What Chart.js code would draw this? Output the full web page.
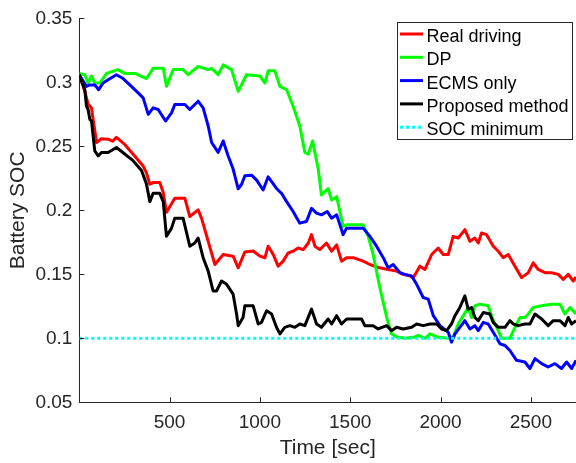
<!DOCTYPE html>
<html>
<head>
<meta charset="utf-8">
<script src="https://cdn.jsdelivr.net/npm/chart.js@4/dist/chart.umd.min.js"></script>
<style>
  html, body { margin: 0; padding: 0; background: #fff; }
  #wrap { width: 576px; height: 463px; }
</style>
</head>
<body>
<div id="wrap"><canvas id="socChart" width="576" height="463"></canvas></div>
<script>
const seriesLabels = ["Real driving", "DP", "ECMS only", "Proposed method", "SOC minimum"];
const seriesColors = ["#ff0000", "#00ff00", "#0000ff", "#000000", "#00ffff"];

const xTicks = [500, 1000, 1500, 2000, 2500];
const yTicks = [0.05, 0.1, 0.15, 0.2, 0.25, 0.3, 0.35];

const realTime = [0, 31, 49, 68, 77, 96, 123, 160, 185, 206, 252, 308, 354, 372, 391, 409, 446, 465, 483, 529, 585, 612, 658, 677, 714, 751, 797, 852, 880, 917, 963, 1000, 1028, 1046, 1074, 1101, 1129, 1157, 1184, 1212, 1240, 1268, 1286, 1305, 1332, 1369, 1397, 1425, 1452, 1480, 1517, 1572, 1609, 1664, 1710, 1757, 1793, 1831, 1849, 1886, 1914, 1951, 1987, 2015, 2043, 2070, 2098, 2135, 2163, 2190, 2209, 2227, 2255, 2292, 2320, 2347, 2375, 2412, 2449, 2486, 2513, 2541, 2578, 2615, 2652, 2680, 2707, 2735, 2750];
const realSoc = [0.306, 0.293, 0.283, 0.280, 0.271, 0.253, 0.256, 0.2556, 0.254, 0.257, 0.2515, 0.2423, 0.2346, 0.2294, 0.2204, 0.2217, 0.2217, 0.214, 0.1985, 0.2094, 0.2094, 0.1952, 0.2004, 0.1939, 0.1758, 0.1577, 0.1655, 0.1642, 0.1551, 0.1675, 0.1682, 0.1642, 0.163, 0.172, 0.1655, 0.1564, 0.1603, 0.1668, 0.168, 0.1706, 0.1693, 0.1745, 0.181, 0.172, 0.1693, 0.1745, 0.168, 0.173, 0.1603, 0.163, 0.163, 0.1603, 0.1577, 0.1551, 0.1538, 0.1525, 0.150, 0.1487, 0.1474, 0.1564, 0.1538, 0.1655, 0.1706, 0.1655, 0.1655, 0.1797, 0.1784, 0.1849, 0.1758, 0.1784, 0.1745, 0.1823, 0.181, 0.172, 0.168, 0.163, 0.1655, 0.1564, 0.1474, 0.1513, 0.159, 0.1538, 0.1513, 0.1513, 0.150, 0.1461, 0.150, 0.1448, 0.148];

const dpTime = [0, 31, 49, 68, 86, 114, 151, 215, 252, 308, 372, 409, 465, 483, 520, 575, 603, 658, 714, 733, 769, 797, 843, 880, 926, 1000, 1028, 1046, 1083, 1111, 1148, 1184, 1221, 1249, 1268, 1292, 1323, 1341, 1378, 1397, 1425, 1461, 1480, 1572, 1600, 1627, 1664, 1702, 1729, 1757, 1803, 1858, 1877, 1914, 1942, 1979, 2043, 2070, 2098, 2126, 2153, 2172, 2190, 2218, 2264, 2292, 2320, 2338, 2384, 2412, 2440, 2467, 2486, 2513, 2560, 2615, 2661, 2689, 2717, 2750];
const dpSoc = [0.307, 0.306, 0.2995, 0.305, 0.2995, 0.2995, 0.307, 0.310, 0.307, 0.307, 0.303, 0.311, 0.311, 0.2969, 0.310, 0.310, 0.306, 0.3124, 0.310, 0.311, 0.306, 0.3137, 0.310, 0.293, 0.306, 0.305, 0.2995, 0.309, 0.309, 0.2969, 0.2943, 0.2814, 0.2659, 0.2453, 0.2439, 0.2542, 0.2323, 0.212, 0.2171, 0.2081, 0.2107, 0.1874, 0.1887, 0.1887, 0.1797, 0.1655, 0.1397, 0.1163, 0.1035, 0.101, 0.100, 0.1011, 0.1023, 0.100, 0.1035, 0.1011, 0.100, 0.101, 0.1112, 0.1177, 0.1241, 0.1163, 0.1254, 0.1267, 0.1254, 0.1138, 0.106, 0.100, 0.100, 0.1086, 0.1163, 0.1163, 0.119, 0.1241, 0.1254, 0.1267, 0.1267, 0.119, 0.1241, 0.119];

const ecmsTime = [0, 40, 59, 86, 108, 132, 160, 206, 243, 280, 326, 354, 382, 409, 437, 478, 511, 529, 585, 612, 658, 686, 714, 733, 769, 797, 824, 852, 880, 899, 917, 954, 982, 1018, 1046, 1092, 1120, 1148, 1184, 1221, 1258, 1286, 1314, 1341, 1373, 1397, 1425, 1461, 1480, 1572, 1609, 1646, 1683, 1710, 1738, 1775, 1803, 1840, 1868, 1904, 1932, 1960, 1997, 2043, 2061, 2080, 2107, 2135, 2163, 2190, 2209, 2237, 2264, 2292, 2329, 2357, 2384, 2421, 2467, 2495, 2523, 2560, 2596, 2633, 2670, 2698, 2726, 2750];
const ecmsSoc = [0.306, 0.2969, 0.298, 0.298, 0.2943, 0.2995, 0.302, 0.306, 0.303, 0.298, 0.2918, 0.2879, 0.275, 0.2801, 0.2788, 0.2698, 0.2762, 0.2827, 0.2827, 0.2788, 0.2853, 0.2801, 0.2659, 0.253, 0.2453, 0.2542, 0.2426, 0.2323, 0.2168, 0.2204, 0.227, 0.2275, 0.2236, 0.2159, 0.2262, 0.2171, 0.2133, 0.2068, 0.1991, 0.190, 0.1913, 0.2016, 0.1978, 0.1965, 0.1991, 0.1939, 0.1965, 0.181, 0.1861, 0.1861, 0.1797, 0.172, 0.163, 0.1551, 0.1577, 0.1513, 0.150, 0.1487, 0.1422, 0.1319, 0.1306, 0.1177, 0.1099, 0.1047, 0.097, 0.1035, 0.1086, 0.1138, 0.1073, 0.1099, 0.106, 0.1125, 0.1112, 0.1047, 0.0957, 0.0944, 0.0905, 0.0828, 0.0815, 0.0764, 0.0841, 0.0802, 0.0776, 0.0802, 0.0764, 0.0815, 0.0764, 0.0828];

const propTime = [0, 31, 40, 49, 59, 68, 86, 105, 123, 160, 206, 252, 298, 345, 372, 391, 409, 446, 465, 483, 511, 529, 575, 612, 640, 658, 686, 714, 741, 760, 788, 816, 852, 871, 880, 907, 917, 963, 991, 1009, 1037, 1065, 1092, 1111, 1138, 1166, 1194, 1221, 1249, 1286, 1314, 1341, 1378, 1397, 1425, 1452, 1480, 1563, 1581, 1627, 1655, 1702, 1729, 1757, 1793, 1840, 1868, 1904, 1942, 1979, 2006, 2034, 2061, 2080, 2107, 2135, 2153, 2172, 2190, 2209, 2237, 2273, 2292, 2320, 2357, 2384, 2403, 2430, 2467, 2495, 2523, 2560, 2596, 2624, 2661, 2689, 2707, 2726, 2750];
const propSoc = [0.306, 0.2943, 0.2814, 0.2788, 0.271, 0.2698, 0.2465, 0.2426, 0.2452, 0.2452, 0.2491, 0.244, 0.2388, 0.2311, 0.2207, 0.2068, 0.2133, 0.2133, 0.2068, 0.1797, 0.1861, 0.1939, 0.1939, 0.172, 0.1745, 0.1784, 0.163, 0.1525, 0.137, 0.137, 0.1448, 0.1422, 0.1345, 0.119, 0.1099, 0.1163, 0.1254, 0.1254, 0.1112, 0.1125, 0.1215, 0.119, 0.1086, 0.1035, 0.1086, 0.1099, 0.1086, 0.1112, 0.1099, 0.1228, 0.1112, 0.1086, 0.1151, 0.1112, 0.1177, 0.1112, 0.1151, 0.1151, 0.1099, 0.1099, 0.1073, 0.1099, 0.106, 0.1086, 0.1073, 0.1086, 0.1112, 0.1099, 0.1112, 0.1112, 0.1073, 0.106, 0.1112, 0.1177, 0.1241, 0.1332, 0.1228, 0.1241, 0.1163, 0.1138, 0.1202, 0.119, 0.1125, 0.1086, 0.1086, 0.1138, 0.1112, 0.1099, 0.1112, 0.1112, 0.119, 0.1151, 0.1099, 0.1138, 0.1138, 0.1099, 0.1163, 0.1112, 0.1138];

const minTime = [0, 2750];
const minSoc = [0.1, 0.1];

const FONT = "'Liberation Sans', Arial, sans-serif";
const AXIS_COLOR = "#262626";

function toPoints(xs, ys) {
  return xs.map((x, i) => ({ x: x, y: ys[i] }));
}

const pointSets = [
  toPoints(realTime, realSoc),
  toPoints(dpTime, dpSoc),
  toPoints(ecmsTime, ecmsSoc),
  toPoints(propTime, propSoc),
  toPoints(minTime, minSoc)
];

const datasets = pointSets.map((pts, i) => ({
  label: seriesLabels[i],
  data: pts,
  borderColor: seriesColors[i],
  backgroundColor: seriesColors[i],
  borderWidth: 3,
  borderDash: i === 4 ? [3, 3] : [],
  borderJoinStyle: "round",
  pointRadius: 0,
  tension: 0,
  fill: false,
  order: 4 - i // later series drawn on top, like the original
}));

// ticks pointing into the plot, plus the boxed legend in the corner
const decorPlugin = {
  id: "decor",
  afterDraw(chart) {
    const ctx = chart.ctx;
    const xs = chart.scales.x, ys = chart.scales.y;
    const area = chart.chartArea;
    ctx.save();
    ctx.strokeStyle = AXIS_COLOR;
    ctx.lineWidth = 1;
    ctx.beginPath();
    xTicks.forEach(t => {
      const px = Math.round(xs.getPixelForValue(t)) + 0.5;
      ctx.moveTo(px, area.bottom);
      ctx.lineTo(px, area.bottom - 5);
    });
    yTicks.forEach(t => {
      const py = Math.round(ys.getPixelForValue(t)) + 0.5;
      ctx.moveTo(area.left, py);
      ctx.lineTo(area.left + 5, py);
    });
    ctx.stroke();

    // legend
    const bx = 397.5, by = 22.5, bw = 175, bh = 117;
    ctx.fillStyle = "#fff";
    ctx.fillRect(bx, by, bw, bh);
    ctx.strokeStyle = AXIS_COLOR;
    ctx.strokeRect(bx, by, bw, bh);
    ctx.font = "18px " + FONT;
    ctx.textBaseline = "alphabetic";
    ctx.textAlign = "left";
    chart.data.datasets.forEach((ds, i) => {
      const cy = 34 + i * 23.3;
      ctx.strokeStyle = ds.borderColor;
      ctx.lineWidth = 3;
      ctx.setLineDash(ds.borderDash);
      ctx.beginPath();
      ctx.moveTo(400, cy);
      ctx.lineTo(423, cy);
      ctx.stroke();
      ctx.setLineDash([]);
      ctx.fillStyle = "#000";
      ctx.fillText(ds.label, 426.5, cy + 8);
    });
    ctx.restore();
  }
};

new Chart(document.getElementById("socChart"), {
  type: "line",
  data: { datasets: datasets },
  options: {
    responsive: false,
    animation: false,
    events: [],
    layout: { padding: { top: 15, right: 0, bottom: 0, left: 0 } },
    plugins: { legend: { display: false }, tooltip: { enabled: false } },
    scales: {
      x: {
        type: "linear",
        min: 1,
        max: 2750,
        afterBuildTicks: s => { s.ticks = xTicks.map(v => ({ value: v })); },
        afterFit: s => { s.height = 60.7; },
        grid: { display: true, drawOnChartArea: false, drawTicks: false },
        border: { display: true, color: AXIS_COLOR, width: 1 },
        ticks: {
          color: "#262626",
          padding: 9,
          maxRotation: 0,
          font: { family: FONT, size: 19 },
          callback: v => String(v)
        },
        title: {
          display: true,
          text: "Time [sec]",
          color: "#262626",
          font: { family: FONT, size: 21 },
          padding: { top: 0, bottom: 2 }
        }
      },
      y: {
        type: "linear",
        min: 0.05,
        max: 0.35,
        afterBuildTicks: s => { s.ticks = yTicks.map(v => ({ value: v })); },
        afterFit: s => { s.width = 79.4; },
        grid: { display: true, drawOnChartArea: false, drawTicks: false },
        border: { display: true, color: AXIS_COLOR, width: 1 },
        ticks: {
          color: "#262626",
          padding: 7,
          font: { family: FONT, size: 19 },
          callback: v => String(Number(v.toFixed(2)))
        },
        title: {
          display: true,
          text: "Battery SOC",
          color: "#262626",
          font: { family: FONT, size: 21 },
          padding: { top: 6, bottom: 0 }
        }
      }
    }
  },
  plugins: [decorPlugin]
});
</script>
</body>
</html>
